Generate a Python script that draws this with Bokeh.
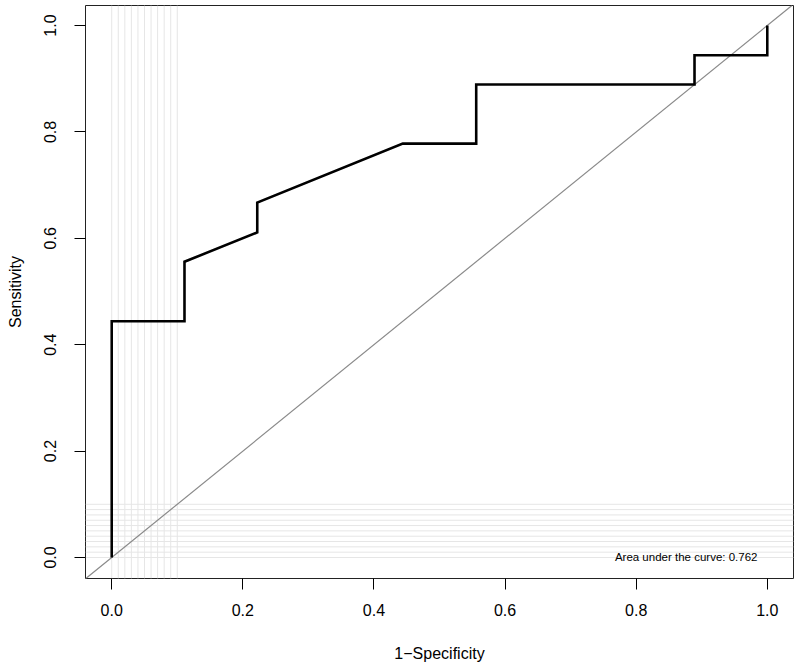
from bokeh.plotting import figure
from bokeh.models import Range1d, FixedTicker, Span, Slope, Label, CustomJSTickFormatter
from bokeh.embed import file_html
from bokeh.resources import INLINE

# ROC curve points (1-Specificity, Sensitivity)
fpr = [0.0, 0.0, 0.111, 0.111, 0.222, 0.222, 0.444, 0.556, 0.556, 0.889, 0.889, 1.0, 1.0]
tpr = [0.0, 0.444, 0.444, 0.556, 0.611, 0.667, 0.778, 0.778, 0.889, 0.889, 0.944, 0.944, 1.0]

grid_x = [0.00, 0.01, 0.02, 0.03, 0.04, 0.05, 0.06, 0.07, 0.08, 0.09, 0.10]
grid_y = [0.00, 0.01, 0.02, 0.03, 0.04, 0.05, 0.06, 0.07, 0.08, 0.09, 0.10]

x_ticks = [0.0, 0.2, 0.4, 0.6, 0.8, 1.0]
y_ticks = [0.0, 0.2, 0.4, 0.6, 0.8, 1.0]
auc_text = "Area under the curve: 0.762"

FONT = "Liberation Sans"

p = figure(width=796, height=668, output_backend="svg", toolbar_location=None,
           x_range=Range1d(-0.04, 1.04), y_range=Range1d(-0.0395, 1.0376),
           min_border_left=85, min_border_right=3, min_border_top=5, min_border_bottom=90)
p.grid.visible = False
p.outline_line_color = "#222222"
p.outline_line_width = 1
p.background_fill_color = "white"
p.border_fill_color = "white"

for gx in grid_x:
    p.add_layout(Span(location=gx, dimension="height", line_color="#e6e6e6",
                      line_width=1, level="underlay"))
for gy in grid_y:
    p.add_layout(Span(location=gy, dimension="width", line_color="#e6e6e6",
                      line_width=1, level="underlay"))

p.add_layout(Slope(gradient=1, y_intercept=0, line_color="#8a8a8a", line_width=1.2,
                   level="underlay"))

p.line(fpr, tpr, line_color="black", line_width=2.6, line_join="miter")

p.add_layout(Label(x=0.985, y=0.0, text=auc_text, text_align="right", text_baseline="alphabetic",
                   text_font=FONT, text_font_size="11.5px", text_color="black"))

for ax in (p.xaxis[0], p.yaxis[0]):
    ax.axis_line_color = None
    ax.major_tick_line_color = "black"
    ax.major_tick_out = 11
    ax.major_tick_in = 0
    ax.minor_tick_line_color = None
    ax.major_label_text_font = FONT
    ax.major_label_text_font_size = "16px"
    ax.major_label_text_color = "black"
    ax.axis_label_text_font = FONT
    ax.axis_label_text_font_size = "16px"
    ax.axis_label_text_font_style = "normal"
    ax.axis_label_text_color = "black"

p.xaxis.ticker = FixedTicker(ticks=x_ticks)
p.yaxis.ticker = FixedTicker(ticks=y_ticks)
p.xaxis.formatter = CustomJSTickFormatter(code="return tick.toFixed(1);")
p.yaxis.formatter = CustomJSTickFormatter(code="return tick.toFixed(1);")
p.yaxis.major_label_orientation = "vertical"

p.xaxis.axis_label = "1\u2212Specificity"
p.yaxis.axis_label = "Sensitivity"
p.xaxis.major_label_standoff = 14
p.xaxis.axis_label_standoff = 26
p.yaxis.major_label_standoff = 18
p.yaxis.axis_label_standoff = 18

open("out.html", "w").write(file_html(p, INLINE))
